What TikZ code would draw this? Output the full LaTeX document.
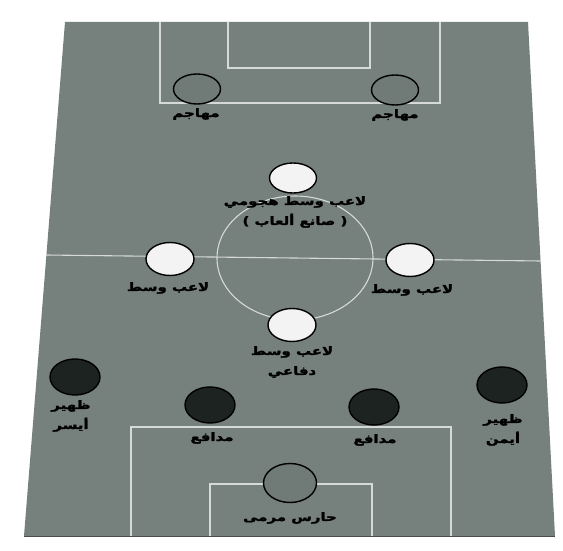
\documentclass[tikz,border=0pt]{standalone}
\usepackage{fontspec}
\usetikzlibrary{shapes.geometric}
\newfontfamily\arabicbold[Script=Arabic, FakeBold=1.6]{DejaVu Sans Bold}
\TeXXeTstate=1
\definecolor{fieldc}{HTML}{76807D}
\definecolor{linec}{HTML}{D5DAD9}
\definecolor{darkp}{HTML}{1C2321}
\definecolor{grayp}{HTML}{707A77}
\definecolor{whitep}{HTML}{F3F3F3}
\newcommand\arl[1]{\scalebox{1.3}[1]{\arabicbold\beginR #1\endR}}
\tikzset{
  pline/.style={draw=linec, line width=1.1pt},
  player/.style={ellipse, draw=black, line width=1.4pt, inner sep=0pt},
  topsz/.style={minimum width=47pt, minimum height=30pt},
  midsz/.style={minimum width=48pt, minimum height=33pt},
  lowsz/.style={minimum width=50pt, minimum height=36pt},
  attp/.style={player, fill=grayp},
  midp/.style={player, fill=whitep},
  defp/.style={player, fill=darkp},
  lbl/.style={font=\fontsize{11.5}{20}\selectfont, text=black, align=center, inner sep=0pt, anchor=center}
}
\begin{document}
\begin{tikzpicture}[x=1pt,y=-1pt]
\useasboundingbox[fill=white] (0,0) rectangle (563,551);
% pitch
\fill[fieldc] (65,22) -- (528,22) -- (555,536) -- (24,536) -- cycle;
\draw[black!70, line width=1pt] (24,536) -- (555,536);
% halfway line
\draw[pline] (46,255) -- (541,261);
% centre circle
\draw[pline] (295,258) ellipse [x radius=78, y radius=62];
% top penalty box and goal area
\draw[pline] (160,22) -- (160,103) -- (440,103) -- (440,22);
\draw[pline] (228,22) -- (228,68) -- (370,68) -- (370,22);
% bottom penalty box and goal area
\draw[pline] (131,536) -- (131,427) -- (451,427) -- (451,536);
\draw[pline] (210,536) -- (210,484) -- (372,484) -- (372,536);
% forwards
\node[attp, topsz] (fw1) at (197,89) {};
\node[attp, topsz] (fw2) at (395,90) {};
\node[lbl] (lfw1) at (196,114) {\arl{مهاجم}};
\node[lbl] (lfw2) at (395,115) {\arl{مهاجم}};
% midfielders
\node[midp, topsz] (am) at (293,178) {};
\node[lbl] (lam) at (295,212) {\arl{لاعب وسط هجومي}\\\arl{( صانع ألعاب )}};
\node[midp, midsz] (lm) at (170,259) {};
\node[lbl] (llm) at (168,288) {\arl{لاعب وسط}};
\node[midp, midsz] (rm) at (410,260) {};
\node[lbl] (lrm) at (412,290) {\arl{لاعب وسط}};
\node[midp, midsz] (dm) at (292,325) {};
\node[lbl] (ldm) at (292,362) {\arl{لاعب وسط}\\\arl{دفاعي}};
% defenders
\node[defp, lowsz] (lb) at (75,377) {};
\node[lbl] (llb) at (71,416) {\arl{ظهير}\\\arl{أيسر}};
\node[defp, lowsz] (rb) at (502,385) {};
\node[lbl] (lrb) at (503,430) {\arl{ظهير}\\\arl{أيمن}};
\node[defp, lowsz] (cb1) at (210,405) {};
\node[lbl] (lcb1) at (212,438) {\arl{مدافع}};
\node[defp, lowsz] (cb2) at (374,407) {};
\node[lbl] (lcb2) at (375,440) {\arl{مدافع}};
% goalkeeper
\node[attp, minimum width=53pt, minimum height=39pt] (gk) at (290,483) {};
\node[lbl] (lgk) at (290,518) {\arl{حارس مرمى}};
\end{tikzpicture}
\end{document}
